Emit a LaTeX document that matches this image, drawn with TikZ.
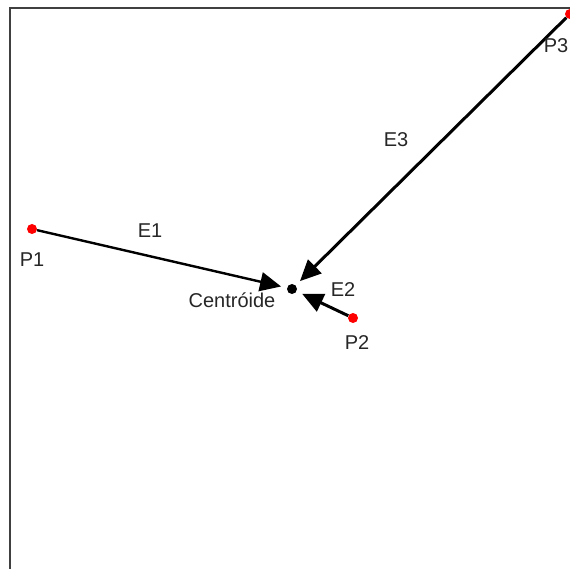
\documentclass[tikz,border=0pt]{standalone}
\usepackage{fontspec}
\setmainfont{Liberation Sans}
\usetikzlibrary{arrows.meta}
\tikzset{
  pnt/.style={circle,fill=red,inner sep=0pt,minimum size=10pt},
  cdot/.style={circle,fill=black,inner sep=0pt,minimum size=10pt},
  lab/.style={font=\fontsize{20}{23}\selectfont,text=black!85,inner sep=0pt},
  edge/.style={-{Triangle[length=21pt,width=19pt]},line width=2.4pt,shorten >=6pt},
  frame/.style={draw=black!75,line width=2.2pt},
}
\begin{document}
\begin{tikzpicture}[x=1pt,y=-1pt]
  \useasboundingbox (0,0) rectangle (570,569);
  \draw[frame] (10,569) -- (10,8) -- (570,8);
  % points and centroid
  \node[pnt] (p1) at (32,229) {};
  \node[pnt] (p2) at (353,318) {};
  \node[pnt] (p3) at (570,14) {};
  \node[cdot] (cen) at (292,289) {};
  % edges
  \draw[edge] (p1) -- (cen);
  \draw[edge,line width=3pt] (p2) -- (cen);
  \draw[edge,line width=3pt] (p3) -- (cen);
  % labels
  \node[lab] (lp1) at (32,260) {P1};
  \node[lab] (lp2) at (357,343) {P2};
  \node[lab] (lp3) at (556,46) {P3};
  \node[lab] (le1) at (150,231) {E1};
  \node[lab] (le2) at (343,290) {E2};
  \node[lab] (le3) at (396,140) {E3};
  \node[lab] (lcen) at (232,300) {Centróide};
\end{tikzpicture}
\end{document}
